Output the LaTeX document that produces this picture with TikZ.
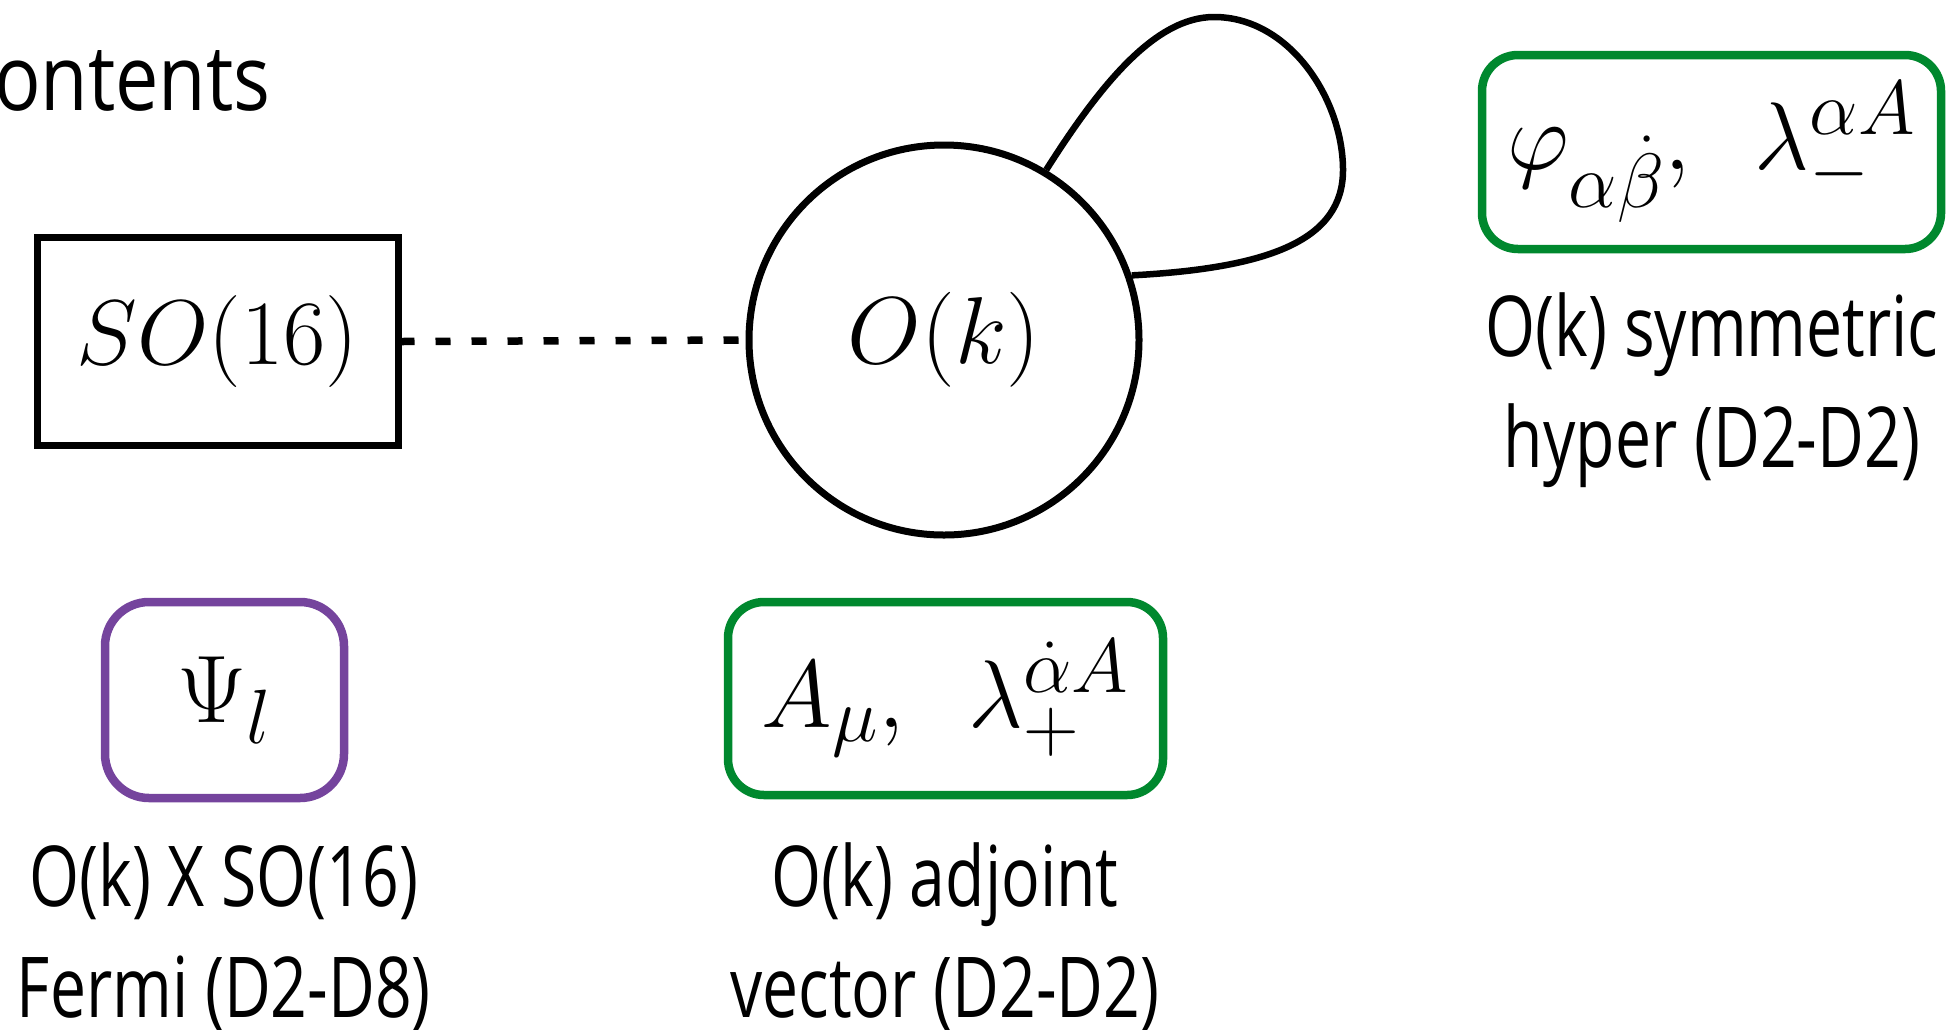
\documentclass[tikz,border=0pt]{standalone}
\usepackage{fix-cm}
\usepackage{fontspec}
\newfontfamily\labfont[FakeStretch=0.765]{Open Sans}
\newfontfamily\titfont[FakeStretch=0.85]{Open Sans}
\DeclareMathSizes{48}{48}{38.5}{30}
\definecolor{fgreen}{RGB}{0,136,46}
\definecolor{fpurple}{RGB}{117,68,157}
\begin{document}
\begin{tikzpicture}[x=0.5pt,y=-0.5pt,
  groupbox/.style={draw, line width=3.5pt, minimum width=180.5pt, minimum height=104pt, inner sep=0, font=\fontsize{46}{54}\selectfont},
  gauge/.style={draw, circle, line width=3.5pt, minimum size=195pt, inner sep=0, font=\fontsize{47.5}{56}\selectfont},
  fieldbox/.style={draw, line width=4.25pt, rounded corners=18pt, inner sep=0, font=\fontsize{48}{56}\selectfont},
  dashline/.style={line width=3.75pt, dash pattern=on 7.5pt off 10.5pt, dash phase=1pt},
  loopline/.style={line width=3.25pt},
  lab/.style={font=\labfont\fontsize{42}{50}\selectfont, anchor=base, inner sep=0},
  titletext/.style={font=\titfont\fontsize{45.5}{54}\selectfont, anchor=base east, inner sep=0}]
\useasboundingbox (0,0) rectangle (1952,1029);
\node[titletext] (title) at (271,110) {ontents};
\node[groupbox] (so) at (217.5,341.5) {$SO(16)$};
\node[gauge] (ok) at (944,340) {$O(k)$};
\draw[dashline] (so.east) -- (ok.west);
\draw[loopline] (ok.59) .. controls (1100,85) and (1155,17) .. (1214,17)
  .. controls (1290,17) and (1343,100) .. (1343,170)
  .. controls (1343,240) and (1270,268) .. (ok.19);
\node[fieldbox, draw=fgreen, minimum width=229.5pt, minimum height=97pt] (hyp) at (1711.5,152)
  {$\varphi_{\alpha\dot{\beta}},\hspace{0.5em}\lambda_{-}^{\alpha A}$};
\node[fieldbox, draw=fgreen, minimum width=217.5pt, minimum height=96.5pt] (vec) at (945.5,698.5)
  {$A_{\mu},\hspace{0.5em}\lambda_{+}^{\dot{\alpha} A}$};
\node[fieldbox, draw=fpurple, rounded corners=22pt, minimum width=119.5pt, minimum height=98pt] (fer) at (224.5,700)
  {$\Psi_{l}$};
\node[lab] (hypA) at (1712,356) {O(k) symmetric};
\node[lab] (hypB) at (1712,467) {hyper (D2-D2)};
\node[lab] (vecA) at (945,906) {O(k) adjoint};
\node[lab] (vecB) at (945,1017) {vector (D2-D2)};
\node[lab] (ferA) at (224,906) {O(k) X SO(16)};
\node[lab] (ferB) at (224,1017) {Fermi (D2-D8)};
\end{tikzpicture}
\end{document}
